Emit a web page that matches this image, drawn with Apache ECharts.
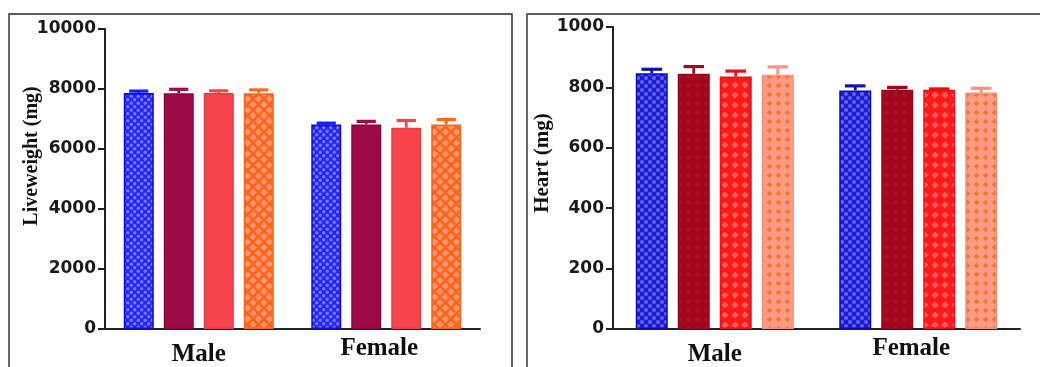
<!DOCTYPE html>
<html>
<head>
<meta charset="utf-8">
<script src="https://cdn.jsdelivr.net/npm/echarts@6/dist/echarts.min.js"></script>
<style>
  html, body { margin: 0; padding: 0; background: #fff; }
  #chart { width: 1040px; height: 367px; }
</style>
</head>
<body>
<div id="chart"></div>
<script>
// Organ and body weights by sex, four treatment groups each (mean and SEM).
const categories = ['Male', 'Female'];

const liveweightMale = [7870, 7860, 7870, 7860];
const liveweightFemale = [6820, 6820, 6710, 6820];
const liveweightMaleSem = [60, 130, 70, 110];
const liveweightFemaleSem = [40, 100, 240, 160];

const heartMale = [847, 845, 836, 842];
const heartFemale = [790, 792, 792, 783];
const heartMaleSem = [13, 24, 18, 26];
const heartFemaleSem = [15, 8, 3, 14];

// Fill textures used by the bars
function tile(size, draw) {
  const c = document.createElement('canvas');
  c.width = size; c.height = size;
  const ctx = c.getContext('2d');
  draw(ctx, size);
  return { image: c, repeat: 'repeat' };
}
function dots(base, dot, size, r) {
  return tile(size, (ctx, s) => {
    ctx.fillStyle = base; ctx.fillRect(0, 0, s, s);
    ctx.fillStyle = dot;
    [[s / 4, s / 4], [3 * s / 4, 3 * s / 4]].forEach(([x, y]) => {
      ctx.beginPath(); ctx.arc(x, y, r, 0, Math.PI * 2); ctx.fill();
    });
  });
}
function lattice(fill, line, size, lw) {
  return tile(size, (ctx, s) => {
    ctx.fillStyle = fill; ctx.fillRect(0, 0, s, s);
    ctx.strokeStyle = line; ctx.lineWidth = lw;
    ctx.beginPath();
    ctx.moveTo(-1, -1); ctx.lineTo(s + 1, s + 1);
    ctx.moveTo(s + 1, -1); ctx.lineTo(-1, s + 1);
    ctx.stroke();
  });
}
function diamonds(base, dia, size, half) {
  return tile(size, (ctx, s) => {
    ctx.fillStyle = base; ctx.fillRect(0, 0, s, s);
    ctx.fillStyle = dia;
    const c = s / 2;
    ctx.beginPath();
    ctx.moveTo(c, c - half); ctx.lineTo(c + half, c); ctx.lineTo(c, c + half); ctx.lineTo(c - half, c);
    ctx.closePath(); ctx.fill();
  });
}

const liveStyles = [
  { fill: dots('#2424ff', '#7a7aff', 7, 1.7), border: '#0a0ad8', err: '#1a1aff' },
  { fill: '#9e0a48', border: '#8a0640', err: '#9e0a48' },
  { fill: '#f6444a', border: '#ec3a42', err: '#f6444a' },
  { fill: lattice('#ff9274', '#ff6410', 11, 2.4), border: '#ff6410', err: '#ff6a1a' }
];
const heartStyles = [
  { fill: dots('#1c1cd6', '#6464ff', 8, 2), border: '#0a0ab8', err: '#1010c0' },
  { fill: diamonds('#a3061c', '#aa1024', 9, 3), border: '#96041a', err: '#a0081c' },
  { fill: diamonds('#ff1a1a', '#ff5c5c', 10, 3.6), border: '#f01010', err: '#e81010' },
  { fill: diamonds('#ff9a84', '#f27a2a', 9, 2.8), border: '#f8907a', err: '#f49488' }
];

const axisColor = '#222';
const tickFont = { fontSize: 17, fontWeight: 'bold', fontFamily: 'DejaVu Sans', color: '#1a1a1a' };

function xAxisFor(gridIndex) {
  return {
    type: 'category', gridIndex, data: categories,
    axisLine: { lineStyle: { color: axisColor, width: 2 } },
    axisTick: { alignWithLabel: true, length: 6, lineStyle: { color: axisColor, width: 2 } },
    axisLabel: {
      margin: 7,
      formatter: v => v === 'Male' ? '{m|' + v + '}' : '{f|' + v + '}',
      rich: {
        m: { fontSize: 25, fontWeight: 'bold', fontFamily: 'Liberation Serif', color: '#111', padding: [6, 0, 0, 0] },
        f: { fontSize: 25, fontWeight: 'bold', fontFamily: 'Liberation Serif', color: '#111', padding: [0, 14, 0, 0] }
      }
    }
  };
}
function yAxisFor(gridIndex, max, interval, name, nameGap, nameSize, namePad) {
  return {
    type: 'value', gridIndex, min: 0, max, interval,
    name, nameLocation: 'middle', nameRotate: 90, nameGap, nameMoveOverlap: false,
    nameTextStyle: { fontSize: nameSize, fontWeight: 'bold', fontFamily: 'Liberation Serif', color: '#111', padding: [0, 0, 0, namePad] },
    axisLine: { show: true, lineStyle: { color: axisColor, width: 2 } },
    axisTick: { show: true, length: 7, lineStyle: { color: axisColor, width: 2 } },
    axisLabel: Object.assign({ margin: 9, formatter: v => String(v) }, tickFont),
    splitLine: { show: false }
  };
}

function barSeries(gridIndex, male, female, styles, barWidth, barGap) {
  return male.map((m, i) => ({
    type: 'bar', xAxisIndex: gridIndex, yAxisIndex: gridIndex,
    data: [m, female[i]], barWidth, barGap,
    itemStyle: { color: styles[i].fill, borderColor: styles[i].border, borderWidth: 1.5 },
    z: 2
  }));
}

// Upper SEM whiskers, placed at each bar's slot within the category group
function errorSeries(gridIndex, male, female, maleSem, femaleSem, styles, barWidth, gapPx) {
  const n = male.length;
  return male.map((m, i) => {
    const offset = (i - (n - 1) / 2) * (barWidth + gapPx);
    const data = [
      [0, m, m + maleSem[i]],
      [1, female[i], female[i] + femaleSem[i]]
    ];
    return {
      type: 'custom', xAxisIndex: gridIndex, yAxisIndex: gridIndex, z: 3,
      data,
      renderItem: (params, api) => {
        const base = api.coord([api.value(0), api.value(1)]);
        const top = api.coord([api.value(0), api.value(2)]);
        const x = base[0] + offset;
        const half = barWidth * 0.32;
        return {
          type: 'group',
          children: [
            { type: 'line', shape: { x1: x, y1: base[1], x2: x, y2: top[1] }, style: { stroke: styles[i].err, lineWidth: 2.8 } },
            { type: 'line', shape: { x1: x - half, y1: top[1], x2: x + half, y2: top[1] }, style: { stroke: styles[i].err, lineWidth: 3.2 } }
          ]
        };
      }
    };
  });
}

const chart = echarts.init(document.getElementById('chart'));
chart.setOption({
  animation: false,
  backgroundColor: '#fff',
  graphic: [
    { type: 'rect', shape: { x: 9, y: 14, width: 503, height: 420 }, style: { fill: 'none', stroke: '#2a2a2a', lineWidth: 1.4 }, z: -1 },
    { type: 'rect', shape: { x: 527, y: 14, width: 540, height: 420 }, style: { fill: 'none', stroke: '#2a2a2a', lineWidth: 1.4 }, z: -1 }
  ],
  grid: [
    { left: 105, right: 560, top: 29, bottom: 34 },
    { left: 613, right: 20, top: 27, bottom: 36 }
  ],
  xAxis: [xAxisFor(0), xAxisFor(1)],
  yAxis: [
    yAxisFor(0, 10000, 2000, 'Liveweight (mg)', 63, 20, 46),
    yAxisFor(1, 1000, 200, 'Heart (mg)', 60, 21, 30)
  ],
  series: [
    ...barSeries(0, liveweightMale, liveweightFemale, liveStyles, 30, '33.3%'),
    ...errorSeries(0, liveweightMale, liveweightFemale, liveweightMaleSem, liveweightFemaleSem, liveStyles, 30, 10),
    ...barSeries(1, heartMale, heartFemale, heartStyles, 32, '31.25%'),
    ...errorSeries(1, heartMale, heartFemale, heartMaleSem, heartFemaleSem, heartStyles, 32, 10)
  ]
});
</script>
</body>
</html>
